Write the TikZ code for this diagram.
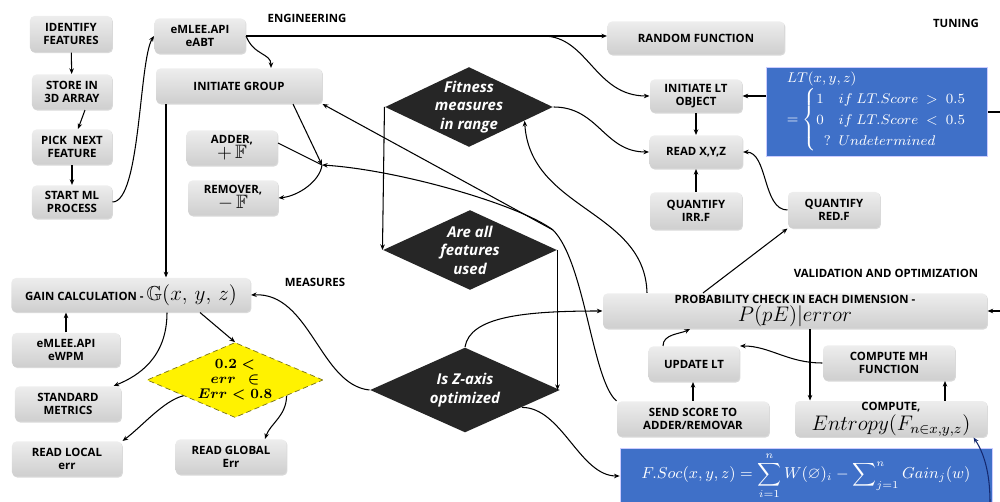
\documentclass[tikz,border=0pt]{standalone}
\usepackage{amsmath}
\usepackage{amssymb}
\usepackage[no-math]{fontspec}
\setmainfont{Open Sans}
\usetikzlibrary{shapes.geometric,arrows.meta,shadows}
\definecolor{ltblue}{RGB}{63,112,200}
\definecolor{dkgrey}{RGB}{38,38,38}
\definecolor{navyline}{RGB}{20,40,110}

\begin{document}
\begin{tikzpicture}[x=0.2mm,y=-0.2mm,->,>={Stealth[length=3.2pt,width=2.6pt]},line width=0.6pt,
		grey node/.style={rectangle,rounded corners=2.5pt,top color=gray!14,bottom color=gray!38,draw=none,
			font=\fontsize{6.5}{7.6}\selectfont\bfseries,align=center,inner sep=1pt,
			drop shadow={shadow xshift=0.5pt,shadow yshift=-0.6pt,opacity=0.3}},
		dec node/.style={diamond,fill=dkgrey,text=white,font=\fontsize{8.5}{10.5}\selectfont\bfseries\itshape,
			align=center,inner sep=-1pt,aspect=2.1},
		blue node/.style={rectangle,fill=ltblue,draw=blue!20,line width=0.4pt,text=white,inner sep=2pt},
		tag node/.style={font=\fontsize{6.5}{7.6}\selectfont\bfseries}]
	\useasboundingbox (0,0) rectangle (1000,502);

	\node[tag node] (eng) at (307,18) {ENGINEERING};
	\node[tag node] (tun) at (956,23) {TUNING};
	\node[tag node] (meas) at (315,282) {MEASURES};
	\node[tag node] (valopt) at (886,273) {VALIDATION AND OPTIMIZATION};

	\node[grey node,minimum width=16.4mm,minimum height=7.2mm] (idf) at (71,34) {IDENTIFY\\FEATURES};
	\node[grey node,minimum width=16mm,minimum height=7mm] (store) at (72,92) {STORE IN\\3D ARRAY};
	\node[grey node,minimum width=16mm,minimum height=7mm] (pick) at (72,147) {PICK\ \ NEXT\\FEATURE};
	\node[grey node,minimum width=16mm,minimum height=6.6mm] (start) at (72,202) {START ML\\PROCESS};
	\node[grey node,minimum width=18.2mm,minimum height=7mm] (eabt) at (200,36) {eMLEE.API\\eABT};
	\node[grey node,minimum width=33.2mm,minimum height=7mm] (igroup) at (239,86) {INITIATE GROUP};
	\node[grey node,minimum width=18.2mm,minimum height=7mm] (adder) at (232,148)
		{ADDER,\\[-1pt]{\fontsize{11}{11}\selectfont$+\,\mathbb{F}$}};
	\node[grey node,minimum width=18mm,minimum height=7mm] (remover) at (233,198)
		{REMOVER,\\[-1pt]{\fontsize{11}{11}\selectfont$-\,\mathbb{F}$}};

	\node[grey node,minimum width=35.4mm,minimum height=6.6mm] (randf) at (696,38) {RANDOM FUNCTION};
	\node[grey node,minimum width=18.4mm,minimum height=6.6mm] (initlt) at (696,96) {INITIATE LT\\OBJECT};
	\node[grey node,minimum width=18.6mm,minimum height=6.6mm] (readxyz) at (696,152) {READ X,Y,Z};
	\node[grey node,minimum width=18.4mm,minimum height=7.4mm] (qirr) at (696,211) {QUANTIFY\\IRR.F};
	\node[grey node,minimum width=18.4mm,minimum height=7.2mm] (qred) at (834,210) {QUANTIFY\\RED.F};
	\node[blue node,minimum width=44.2mm,minimum height=17.8mm,align=left,font=\fontsize{8.5}{10}\selectfont] (ltbox) at (877,112)
		{$LT(x,y,z)$\\
		$=\begin{cases}1 & if\ LT.Score\ >\ 0.5\\ 0 & if\ LT.Score\ <\ 0.5\\ & \hspace{-1em}?\ \ Undetermined\end{cases}$};

	\node[grey node,minimum width=76.8mm,minimum height=7mm] (prob) at (795,311)
		{PROBABILITY CHECK IN EACH DIMENSION -\\[0pt]{\fontsize{11.5}{11.5}\selectfont$P(pE)|error$}};
	\node[grey node,minimum width=18.2mm,minimum height=7mm] (updlt) at (694,364) {UPDATE LT};
	\node[grey node,minimum width=26.4mm,minimum height=7mm] (cmh) at (889,363) {COMPUTE MH\\FUNCTION};
	\node[grey node,minimum width=30.4mm,minimum height=7mm] (send) at (693,419) {SEND SCORE TO\\ADDER/REMOVAR};
	\node[grey node,minimum width=38.4mm,minimum height=7mm,inner sep=0.5pt] (entropy) at (891,419)
		{COMPUTE,\\[0.5pt]{\fontsize{12}{12}\selectfont$Entropy(F_{n\in x,y,z})$}};
	\node[blue node,minimum width=74.4mm,minimum height=11mm,font=\fontsize{9.2}{11}\selectfont] (fsoc) at (806,476)
		{$F.Soc(x,y,z)=\displaystyle\sum_{i=1}^{n}W(\varnothing)_i-\sum\nolimits_{j=1}^{n}Gain_j(w)$};

	\node[dec node,minimum width=33.6mm,minimum height=16mm] (fit) at (469,107) {Fitness\\measures\\in range};
	\node[dec node,minimum width=34.8mm,minimum height=16mm] (used) at (470,250) {Are all\\features\\used};
	\node[dec node,minimum width=38mm,minimum height=17mm] (zaxis) at (465,390) {Is Z-axis\\optimized};

	\node[grey node,minimum width=47.8mm,minimum height=6.8mm] (gain) at (131,295)
		{GAIN CALCULATION - {\fontsize{11.5}{11.5}\selectfont$\mathbb{G}(x,\,y,\,z)$}};
	\node[grey node,minimum width=21.6mm,minimum height=6.8mm] (ewpm) at (66,350) {eMLEE.API\\eWPM};
	\node[grey node,minimum width=21.2mm,minimum height=7mm] (stdm) at (68,404) {STANDARD\\METRICS};
	\node[grey node,minimum width=22mm,minimum height=7mm] (rlocal) at (67,459) {READ LOCAL\\err};
	\node[diamond,fill=yellow,draw=olive!80!black,densely dashed,line width=0.4pt,aspect=2.3,inner sep=0pt,
		minimum width=35.2mm,minimum height=15mm,align=center,font=\fontsize{7.8}{8.6}\selectfont\boldmath] (ydiam) at (235,380)
		{$0.2<$\\$err\ \ \in$\\$Err<0.8$};
	\node[grey node,minimum width=22.2mm,minimum height=7mm] (rglobal) at (231,457) {READ GLOBAL\\Err};

	\coordinate (split) at (543,36);
	\coordinate (jct) at (322,165);
	\coordinate (mrg) at (553,230);
	\coordinate (rtop) at (1000,112);
	\coordinate (rmid) at (1000,311);
	\coordinate (rbot) at (990,502);

	\path
	(idf) edge (store)
	([xshift=2.6mm]store.south) edge ([xshift=1.2mm]pick.north)
	(pick) edge (start)
	(eabt.east) edge (eabt.east -| randf.west)
	([xshift=-14.6mm]igroup.south) edge ([xshift=-14.6mm]igroup.south |- gain.north)
	([xshift=10.8mm]igroup.south) edge (jct)
	([yshift=1mm]adder.east) edge[-] (jct)
	(mrg) edge (igroup.south east)
	(fit.west) edge (used.west)
	([xshift=-18.4mm]prob.north) edge (qred.south west)
	(qirr) edge (readxyz)
	(initlt) edge (readxyz)
	(initlt.east -| ltbox.west) edge (initlt.east)
	(ltbox.east) edge[-] (rtop)
	(rmid) edge (prob.east)
	([xshift=3mm]prob.south) edge ([xshift=3mm]prob.south |- entropy.north)
	([xshift=10.8mm]entropy.north) edge ([xshift=10.8mm]entropy.north |- cmh.south)
	(send.north) edge (send.north |- updlt.south)
	(used.east) edge (used.east |- zaxis.east)
	([xshift=13.8mm]gain.south) edge (ydiam.north)
	(ewpm.north) edge (ewpm.north |- gain.south)
	;

	\draw (start.east) .. controls +(28,0) and +(-15,24) .. (eabt.west);
	\draw (eabt.east) .. controls +(8,20) and +(0,-15) .. ([xshift=6.4mm]igroup.north);
	\draw (split) .. controls +(45,0) and +(-55,0) .. (initlt.west);
	\draw (jct) .. controls +(-2,16) and +(20,-2) .. (remover.east);
	\draw (send.north west) .. controls (592,380) and (585,262) .. (mrg)
		.. controls (520,205) and (400,170) .. (jct);
	\draw (fit.east) .. controls +(45,0) and +(-45,0) .. (readxyz.west);
	\draw ([xshift=-29.6mm]prob.north) .. controls (645,210) and (530,210) .. (fit.-14);
	\draw (qred.west) .. controls +(-25,0) and +(25,0) .. (readxyz.east);
	\draw (cmh.west) .. controls +(-35,0) and +(30,0) .. (updlt.north east);
	\draw ([xshift=-6.2mm]updlt.north) .. controls +(0,-12) and +(-10,5) .. ([xshift=-21mm]prob.south);
	\draw (zaxis.north) .. controls +(5,-30) and +(-80,0) .. (prob.west);
	\draw (zaxis.west) .. controls (320,385) and (310,292) .. (gain.east);
	\draw (zaxis.-17) .. controls +(40,0) and +(-40,0) .. (fsoc.west);
	\draw ([xshift=7.2mm]gain.south) .. controls +(0,45) and +(25,-10) .. ([xshift=-1.6mm]stdm.north east);
	\draw (ydiam.197) .. controls +(-20,5) and +(20,-15) .. (rlocal.north east);
	\draw (ydiam.-17) .. controls +(0,20) and +(5,-15) .. ([xshift=6.8mm]rglobal.north);
	\draw[navyline] (rbot) .. controls +(0,-30) and +(10,15) .. ([xshift=-2.8mm]entropy.south east);
\end{tikzpicture}
\end{document}
